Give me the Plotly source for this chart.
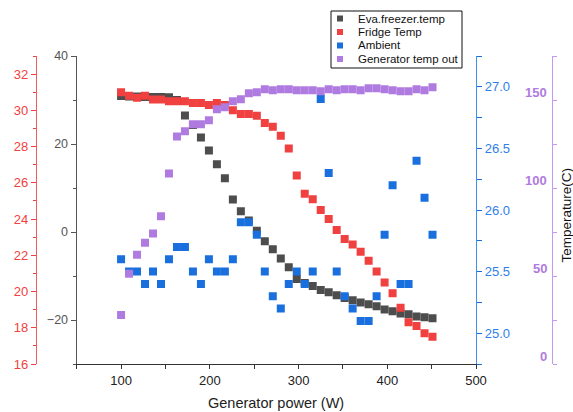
import plotly.graph_objects as go

# Generator power (W) for each measurement
power = [100, 109, 118, 127, 136, 145, 154, 163, 172, 181,
         190, 199, 208, 217, 226, 235, 244, 253, 262, 271,
         280, 289, 298, 307, 316, 325, 334, 343, 352, 361,
         370, 379, 388, 397, 406, 415, 424, 433, 442, 451]

# Evaporator (freezer) temperature
eva_freezer = [30.9, 30.8, 30.8, 30.7, 30.7, 30.7, 30.6, 30.0, 26.5, 24.3,
               21.5, 18.5, 15.4, 12.2, 7.4, 4.7, 2.6, 0.3, -2.1, -3.9,
               -6.0, -8.0, -10.7, -11.6, -12.3, -13.2, -13.7, -14.4, -15.0, -15.5,
               -16.0, -16.4, -16.9, -17.6, -18.0, -18.5, -18.7, -19.2, -19.4, -19.6]

# Fridge compartment temperature
fridge = [31.0, 30.8, 30.7, 30.8, 30.6, 30.6, 30.5, 30.5, 30.5, 30.4,
          30.4, 30.3, 30.4, 30.3, 30.0, 29.8, 29.8, 29.7, 29.3, 29.1,
          28.6, 27.9, 26.4, 25.4, 25.1, 24.5, 24.0, 23.4, 22.9, 22.6,
          22.2, 21.7, 21.1, 20.5, 19.9, 19.1, 18.3, 18.1, 17.7, 17.5]

# Ambient temperature
ambient = [25.6, 25.5, 25.5, 25.4, 25.5, 25.4, 25.6, 25.7, 25.7, 25.5,
           25.4, 25.6, 25.5, 25.5, 25.6, 25.9, 25.9, 25.8, 25.5, 25.3,
           25.2, 25.4, 25.5, 25.4, 25.5, 26.9, 26.3, 25.5, 25.3, 25.2,
           25.1, 25.1, 25.3, 25.8, 26.2, 25.4, 25.4, 26.4, 26.1, 25.8]

# Generator outlet temperature
gen_out = [27.9, 51.3, 62.1, 68.9, 74.1, 83.9, 108.3, 129.3, 132.2, 136.2,
           136.2, 138.5, 144.7, 145.9, 149.3, 150.4, 153.8, 154.4, 156.1, 155.6,
           156.1, 156.1, 155.6, 155.6, 155.6, 155.0, 156.1, 155.6, 156.1, 156.1,
           155.6, 156.7, 156.7, 156.1, 155.6, 155.0, 155.0, 156.1, 155.6, 157.3]

# Labelled ticks on the generator-outlet axis
gen_ticks = [0, 50, 100, 150]

series_names = ["Eva.freezer.temp", "Fridge Temp", "Ambient", "Generator temp out"]

W, H = 573, 412
M_T, M_B = 56, 48
PLOT_H = H - M_T - M_B


def px_x(px):
    return px / W


def px_y(py):
    return (H - M_B - py) / PLOT_H


GRAY = "#4d4d4d"
RED = "#f04040"
BLUE = "#1a6fdf"
PURPLE = "#b07be0"
FONT = "Liberation Sans, Arial, sans-serif"
colors = [GRAY, RED, BLUE, PURPLE]

fig = go.Figure()
for name, ys, col, ax in zip(series_names, [eva_freezer, fridge, ambient, gen_out],
                             colors, ["y", "y2", "y3", "y4"]):
    fig.add_trace(go.Scatter(x=power, y=ys, mode="markers", name=name,
                             marker=dict(symbol="square", size=8, color=col), yaxis=ax))

# Boxed key in the top-right corner
shapes = [dict(type="rect", xref="paper", yref="paper",
               x0=px_x(331), x1=px_x(462), y0=px_y(68), y1=px_y(11),
               line=dict(color="#111", width=1), fillcolor="white", layer="above")]
annotations = []
row_y = [18.5, 32.0, 45.5, 59.0]
for name, col, ry in zip(series_names, colors, row_y):
    shapes.append(dict(type="rect", xref="paper", yref="paper",
                       x0=px_x(337), x1=px_x(343), y0=px_y(ry + 3), y1=px_y(ry - 3),
                       line=dict(width=0), fillcolor=col, layer="above"))
    annotations.append(dict(text=name, xref="paper", yref="paper",
                            x=px_x(356), y=px_y(ry), xanchor="left", yanchor="middle",
                            showarrow=False, font=dict(size=11.5, color="#111")))

# Tick labels of the outlet axis sit inside the axis, raised above their ticks
for v in gen_ticks:
    annotations.append(dict(text="<b>%d</b>" % v, xref="paper", yref="y4",
                            x=px_x(548.5), y=v, yshift=8, xanchor="right", yanchor="middle",
                            showarrow=False, font=dict(size=13, color=PURPLE)))

annotations += [
    dict(text="Generator power (W)", xref="paper", yref="paper",
         x=px_x(275.5), y=px_y(403), xanchor="center", yanchor="middle",
         showarrow=False, font=dict(size=14.5, color="#222")),
    dict(text="Temperature(C)", xref="paper", yref="paper",
         x=px_x(566.5), y=px_y(215), xanchor="center", yanchor="middle",
         textangle=-90, showarrow=False, font=dict(size=13.5, color="#111")),
]

fig.update_layout(
    width=W, height=H,
    margin=dict(l=0, r=0, t=M_T, b=M_B, autoexpand=False),
    paper_bgcolor="white", plot_bgcolor="white",
    font=dict(family=FONT),
    showlegend=False,
    xaxis=dict(domain=[px_x(76.7), px_x(476)], range=[50, 500],
               tickvals=[100, 200, 300, 400, 500], ticks="outside", ticklen=4,
               tickcolor="#333", showline=True, linecolor="#333", linewidth=1.3,
               minor=dict(dtick=50, tick0=0, ticks="outside", ticklen=4, tickcolor="#333"),
               showgrid=False, zeroline=False, anchor="y",
               tickfont=dict(size=13, color="#222")),
    yaxis=dict(domain=[0, 1], range=[-30, 40], tick0=0, dtick=20,
               ticks="outside", ticklen=5, tickcolor="#555",
               showline=True, linecolor="#555", linewidth=1.3,
               minor=dict(dtick=10, tick0=0, ticks="outside", ticklen=3, tickcolor="#555"),
               showgrid=False, zeroline=False, anchor="x", side="left",
               tickfont=dict(size=12.5, color="#555")),
    yaxis2=dict(overlaying="y", anchor="free", position=px_x(36), side="left",
                range=[16, 33], tick0=16, dtick=2,
                ticks="outside", ticklen=5, tickcolor=RED,
                showline=True, linecolor="#f25c5c", linewidth=1.3,
                minor=dict(dtick=1, tick0=16, ticks="outside", ticklen=3, tickcolor=RED),
                showgrid=False, zeroline=False,
                tickfont=dict(size=13, color=RED)),
    yaxis3=dict(overlaying="y", anchor="x", side="right",
                range=[24.75, 27.25], tickvals=[25.0, 25.5, 26.0, 26.5, 27.0],
                tickformat=".1f", ticks="outside", ticklen=5, tickcolor=BLUE,
                showline=True, linecolor="#3f8ef0", linewidth=1.3,
                minor=dict(dtick=0.25, tick0=0, ticks="outside", ticklen=5, tickcolor=BLUE),
                showgrid=False, zeroline=False,
                tickfont=dict(size=13, color="#2f7fe8")),
    yaxis4=dict(overlaying="y", anchor="free", position=px_x(552), side="right",
                range=[0, 175], tick0=0, dtick=25,
                ticks="outside", ticklen=4, tickcolor="#c49af0",
                showticklabels=False,
                showline=True, linecolor="#c49af0", linewidth=1.3,
                showgrid=False, zeroline=False),
    shapes=shapes,
    annotations=annotations,
)

fig.write_html("out.html")
